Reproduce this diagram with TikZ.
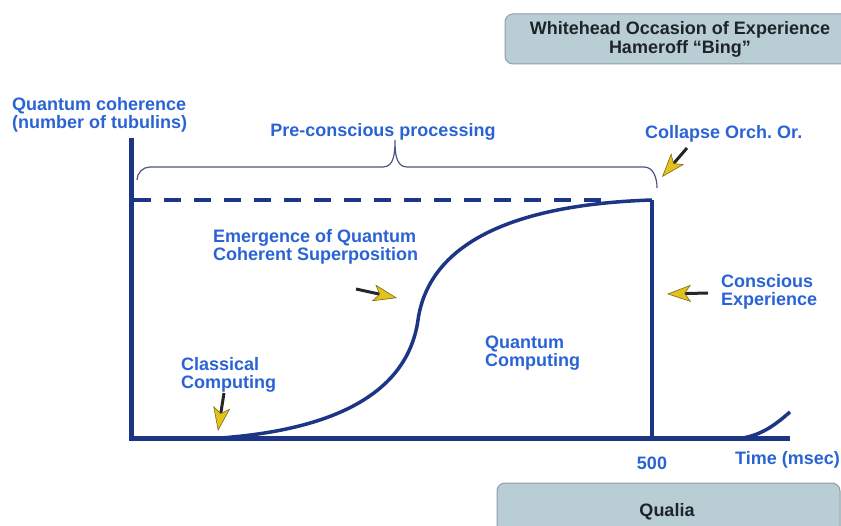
\documentclass[tikz,border=0pt]{standalone}
\usepackage{fontspec}
\setmainfont{Liberation Sans}
\usetikzlibrary{arrows.meta}
\frenchspacing
\definecolor{navy}{HTML}{1D3585}
\definecolor{lblue}{HTML}{2A63D4}
\definecolor{boxfill}{HTML}{B9CDD5}
\definecolor{boxedge}{HTML}{8E9EA6}
\definecolor{arrowyel}{HTML}{E3C21E}
\definecolor{arrowedge}{HTML}{7A6A10}
\definecolor{darktext}{HTML}{1E2428}
\definecolor{bracecol}{HTML}{4A5680}
\begin{document}
\begin{tikzpicture}[x=1pt,y=-1pt,
  lbl/.style={font=\fontsize{18}{18}\selectfont\bfseries, text=lblue, inner sep=0pt, align=left},
  boxtxt/.style={font=\fontsize{18}{19}\selectfont\bfseries, text=darktext, align=center, inner sep=0pt},
  infobox/.style={draw=boxedge, fill=boxfill, rounded corners=8pt, line width=1pt},
  axisline/.style={draw=navy, line width=5pt},
  curveline/.style={draw=navy, line width=3.5pt},
  dashline/.style={draw=navy, line width=4.5pt, dash pattern=on 17pt off 13pt},
  braceline/.style={draw=bracecol, line width=1.2pt},
  cursor/.style={draw=black!85, line width=3pt,
    -{Stealth[length=24pt,width=17pt,inset=6pt,fill=arrowyel,color=arrowedge,line width=0.6pt]}}
]
\useasboundingbox (0,0) rectangle (841,526);
\clip (0,0) rectangle (841,526);

% info boxes
\draw[infobox] (505,14) rectangle (860,64);
\node[boxtxt] (occ) at (680,39.5) {Whitehead Occasion of Experience\\Hameroff “Bing”};
\draw[infobox] (497,483) rectangle (840,560);
\node[boxtxt] (qualia) at (667,512) {Qualia};

% axes
\coordinate (origin) at (131,439);
\coordinate (ytop) at (131,138);
\coordinate (xend) at (790,439);
\draw[axisline] (origin) -- (ytop);
\draw[axisline] (129,439) -- (xend);

% dashed level
\coordinate (dashA) at (134,200);
\coordinate (dashB) at (610,200);
\draw[dashline] (dashA) -- (dashB);

% main curve and collapse line
\coordinate (c0) at (205,439);
\coordinate (c1) at (418,320);
\coordinate (c2) at (652,200);
\coordinate (c3) at (652,439);
\draw[curveline] (c0) .. controls (340,432) and (408,390) .. (c1)
  .. controls (428,250) and (500,205) .. (c2);
\draw[draw=navy, line width=4pt] (c2) -- (c3);

% tail curve
\coordinate (t0) at (735,439);
\coordinate (t1) at (790,412);
\draw[curveline] (t0) .. controls (760,437) and (775,425) .. (t1);

% brace
\coordinate (bL) at (137,180);
\coordinate (bM) at (395,140);
\coordinate (bR) at (657,188);
\draw[braceline] (bL) to[out=90,in=180] (150,167) -- (383,167)
  to[out=0,in=-90] (bM) to[out=-90,in=180] (407,167) -- (644,167)
  to[out=0,in=90] (bR);

% labels
\node[lbl, anchor=west] (yl) at (12,115) {Quantum coherence\\(number of tubulins)};
\node[lbl] (pre) at (383,132) {Pre-conscious processing};
\node[lbl, anchor=west] (col) at (645,134) {Collapse Orch.\ Or.};
\node[lbl, anchor=west] (emg) at (213,247) {Emergence of Quantum\\Coherent Superposition};
\node[lbl, anchor=west] (qc) at (485,353) {Quantum\\Computing};
\node[lbl, anchor=west] (cc) at (181,375) {Classical\\Computing};
\node[lbl, anchor=west] (ce) at (721,292) {Conscious\\Experience};
\node[lbl] (t500) at (652,463) {500};
\node[lbl, anchor=west] (tm) at (735,460) {Time (msec)};

% cursor arrows
\coordinate (a1s) at (687,148);
\coordinate (a1e) at (662,177);
\coordinate (a2s) at (708,293);
\coordinate (a2e) at (667,294);
\coordinate (a3s) at (356,289);
\coordinate (a3e) at (397,298);
\coordinate (a4s) at (224,393);
\coordinate (a4e) at (218,431);
\draw[cursor] (a1s) -- (a1e);
\draw[cursor] (a2s) -- (a2e);
\draw[cursor] (a3s) -- (a3e);
\draw[cursor] (a4s) -- (a4e);
\end{tikzpicture}
\end{document}
